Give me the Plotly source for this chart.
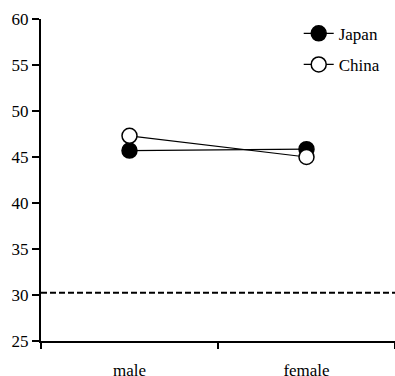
import plotly.graph_objects as go

categories = ["male", "female"]
japan = [45.7, 45.85]
china = [47.3, 45.0]
reference_line = 30.25
y_ticks = [25, 30, 35, 40, 45, 50, 55, 60]

FONT = "Liberation Serif"

fig = go.Figure()
fig.add_trace(go.Scatter(
    x=categories, y=japan, name="Japan", mode="lines+markers",
    line=dict(color="black", width=1.2),
    marker=dict(symbol="circle", size=15, color="black", line=dict(color="black", width=1.5)),
    legendgroup="a",
))
fig.add_trace(go.Scatter(
    x=categories, y=china, name="China", mode="lines+markers",
    line=dict(color="black", width=1.2),
    marker=dict(symbol="circle", size=15, color="white", line=dict(color="black", width=1.5)),
    legendgroup="b",
))

fig.add_shape(type="line", xref="paper", x0=0, x1=1, yref="y", y0=reference_line, y1=reference_line,
              line=dict(color="black", width=2, dash="6px,3px"), layer="below")

fig.update_layout(
    width=395, height=376,
    margin=dict(l=41, r=0, t=19, b=35, autoexpand=False),
    paper_bgcolor="white", plot_bgcolor="white",
    font=dict(family=FONT, size=17, color="black"),
    showlegend=True,
    legend=dict(x=0.728, y=1.01, xanchor="left", yanchor="top", bgcolor="rgba(0,0,0,0)",
                font=dict(family=FONT, size=17), tracegroupgap=6, traceorder="grouped"),
    xaxis=dict(type="category", range=[-0.5, 1.5], tickson="boundaries", automargin=False,
               ticks="outside", ticklen=6, tickwidth=2, tickcolor="black",
               showline=True, linewidth=2, linecolor="black", showgrid=False, zeroline=False,
               ticklabelstandoff=13, tickfont=dict(family=FONT, size=17, color="black")),
    yaxis=dict(range=[25, 60], tickvals=y_ticks, ticks="outside", ticklen=7, tickwidth=2,
               automargin=False,
               tickcolor="black", showline=True, linewidth=2, linecolor="black",
               showgrid=False, zeroline=False, tickfont=dict(family=FONT, size=17, color="black")),
)

fig.write_html("out.html", config={"displayModeBar": False},
               post_script="document.body.style.margin='0';document.body.style.padding='0';")
